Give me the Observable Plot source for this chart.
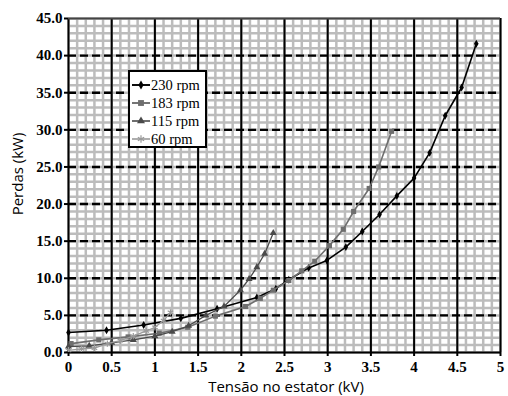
<!DOCTYPE html>
<html>
<head>
<meta charset="utf-8">
<script src="https://cdn.jsdelivr.net/npm/d3@7"></script>
<script src="https://cdn.jsdelivr.net/npm/@observablehq/plot@0.6"></script>
<style>
  html, body { margin: 0; padding: 0; background: #fff; }
  #chart { position: relative; width: 508px; height: 396px; }
</style>
</head>
<body>
<div id="chart"></div>
<script>
// ---- Data ----
const xTicks = [0, 0.5, 1, 1.5, 2, 2.5, 3, 3.5, 4, 4.5, 5];
const xTickLabels = ["0", "0.5", "1", "1.5", "2", "2.5", "3", "3.5", "4", "4.5", "5"];
const yTicks = [0, 5, 10, 15, 20, 25, 30, 35, 40, 45];
const yTickLabels = ["0.0", "5.0", "10.0", "15.0", "20.0", "25.0", "30.0", "35.0", "40.0", "45.0"];

const seriesNames = ["230 rpm", "183 rpm", "115 rpm", "60 rpm"];

const kV_230 = [0.00, 0.44, 0.87, 1.30, 1.72, 2.18, 2.40, 2.55, 2.78, 2.99, 3.21, 3.40, 3.60, 3.80, 4.00, 4.18, 4.36, 4.55, 4.72];
const kW_230 = [2.7, 3.0, 3.7, 4.6, 5.9, 7.4, 8.6, 9.8, 11.4, 12.4, 14.2, 16.3, 18.6, 21.1, 23.5, 26.9, 31.9, 35.7, 41.6];

const kV_183 = [0.03, 0.35, 0.69, 1.05, 1.38, 1.70, 2.05, 2.22, 2.37, 2.55, 2.70, 2.85, 3.02, 3.18, 3.30, 3.48, 3.59, 3.74];
const kW_183 = [1.2, 1.7, 2.1, 2.6, 3.4, 4.9, 6.2, 7.3, 8.4, 9.7, 11.0, 12.3, 14.4, 16.6, 19.0, 22.1, 25.0, 29.8];

const kV_115 = [0.00, 0.24, 0.50, 0.75, 1.00, 1.20, 1.39, 1.59, 1.80, 1.99, 2.09, 2.18, 2.27, 2.37];
const kW_115 = [0.8, 0.9, 1.3, 1.7, 2.2, 2.8, 3.6, 5.0, 6.2, 8.4, 9.9, 11.5, 13.3, 16.1];

const kV_60 = [0.00, 0.15, 0.30, 0.45, 0.60, 0.75, 0.90, 1.00, 1.10, 1.18];
const kW_60 = [0.3, 0.5, 0.6, 1.2, 1.6, 2.2, 2.9, 3.4, 4.3, 5.4];

// ---- Build tidy table ----
const seriesData = [[kV_230, kW_230], [kV_183, kW_183], [kV_115, kW_115], [kV_60, kW_60]];
const data = seriesData.flatMap(([xs, ys], s) =>
  xs.map((x, i) => ({series: seriesNames[s], kV: x, kW: ys[i]})));

const styles = {
  "230 rpm": {stroke: "#000000", symbol: "diamond", r: 2.4, width: 1.6},
  "183 rpm": {stroke: "#6e6e6e", symbol: "square", r: 2.9, width: 1.6},
  "115 rpm": {stroke: "#4a4a4a", symbol: "triangle", r: 2.6, width: 1.3},
  "60 rpm":  {stroke: "#9a9a9a", symbol: "asterisk", r: 3.0, width: 1.3}
};

const xLabel = new Map(xTicks.map((t, i) => [t, xTickLabels[i]]));
const yLabel = new Map(yTicks.map((t, i) => [t, yTickLabels[i]]));

const xMinor = d3.range(0, 50.5, 1).map(d => d / 10);
const yMinor = d3.range(0, 46, 1);
const yDashed = yTicks.filter(t => t > 0 && t < 45);

const tickFont = {fontFamily: "'Liberation Serif', serif", fontSize: 15, fontWeight: "bold"};

const marks = [
  Plot.ruleX(xMinor, {stroke: "#bcbcbc", strokeWidth: 2.5}),
  Plot.ruleY(yMinor, {stroke: "#bcbcbc", strokeWidth: 2.5}),
  Plot.ruleY(yDashed, {stroke: "#000", strokeWidth: 2.4, strokeDasharray: "8,4"}),
  Plot.ruleX(xTicks, {stroke: "#000", strokeWidth: 2}),
  Plot.ruleY([45], {stroke: "#444", strokeWidth: 2}),
  Plot.ruleY([0], {stroke: "#000", strokeWidth: 2}),
];
for (const name of seriesNames) {
  const st = styles[name];
  const sub = data.filter(d => d.series === name);
  marks.push(Plot.line(sub, {x: "kV", y: "kW", stroke: st.stroke, strokeWidth: st.width}));
  if (st.symbol === "asterisk") {
    marks.push(Plot.dot(sub, {x: "kV", y: "kW", symbol: "asterisk", r: st.r, stroke: st.stroke, strokeWidth: 1.2}));
  } else {
    marks.push(Plot.dot(sub, {x: "kV", y: "kW", symbol: st.symbol, r: st.r, fill: st.stroke, stroke: "none"}));
  }
}
marks.push(
  Plot.axisX({ticks: xTicks, tickFormat: d => xLabel.get(d), tickSize: 4, tickPadding: 5, strokeWidth: 2, label: null, ...tickFont}),
  Plot.axisY({ticks: yTicks, tickFormat: d => yLabel.get(d), tickSize: 4, tickPadding: 2, strokeWidth: 2, label: null, ...tickFont})
);

const plot = Plot.plot({
  width: 508,
  height: 396,
  marginLeft: 68,
  marginRight: 8,
  marginTop: 18,
  marginBottom: 44,
  style: {fontFamily: "'Liberation Serif', serif", fontSize: "15px", color: "#000", background: "#fff"},
  x: {domain: [0, 5], label: null},
  y: {domain: [0, 45], label: null},
  marks
});

document.getElementById("chart").appendChild(plot);

// ---- Axis titles and legend (text kept as real text) ----
const svg = d3.select(plot);
// enforce tick-label font in case the axis mark ignores font options
svg.selectAll("g[aria-label$='tick label'] text")
  .style("font-family", "'Liberation Serif', serif")
  .style("font-size", "15px")
  .style("font-weight", "bold");

svg.append("text")
  .attr("x", 286).attr("y", 392)
  .attr("text-anchor", "middle")
  .style("font-family", "'Open Sans', sans-serif")
  .style("font-size", "15px").style("font-weight", "normal")
  .attr("fill", "#000")
  .text("Tensão no estator (kV)");
svg.append("text")
  .attr("transform", "translate(23,174) rotate(-90)")
  .attr("text-anchor", "middle")
  .style("font-family", "'Open Sans', sans-serif")
  .style("font-size", "15px").style("font-weight", "normal")
  .attr("fill", "#000")
  .text("Perdas (kW)");

const lg = svg.append("g").attr("transform", "translate(129,71)");
lg.append("rect").attr("x", 0).attr("y", 0).attr("width", 77).attr("height", 76)
  .attr("fill", "#fff").attr("stroke", "#000").attr("stroke-width", 2);
const symMap = {diamond: d3.symbolDiamond, square: d3.symbolSquare, triangle: d3.symbolTriangle, asterisk: d3.symbolAsterisk};
seriesNames.forEach((name, i) => {
  const st = styles[name];
  const cy = 14 + i * 18;
  const g = lg.append("g").attr("transform", `translate(0,${cy})`);
  g.append("line").attr("x1", 3).attr("x2", 21).attr("y1", 0).attr("y2", 0)
    .attr("stroke", st.stroke).attr("stroke-width", st.width + 0.3);
  const path = d3.symbol(symMap[st.symbol], Math.PI * st.r * st.r * 1.3)();
  const p = g.append("path").attr("d", path).attr("transform", "translate(12,0)");
  if (st.symbol === "asterisk") p.attr("fill", "none").attr("stroke", st.stroke).attr("stroke-width", 1.2);
  else p.attr("fill", st.stroke).attr("stroke", "none");
  g.append("text").attr("x", 22).attr("y", 0).attr("dy", "0.35em")
    .attr("text-anchor", "start")
    .style("font-family", "'Liberation Serif', serif")
    .style("font-size", "14.5px").style("font-weight", "normal")
    .attr("fill", "#000")
    .text(name);
});
</script>
</body>
</html>
